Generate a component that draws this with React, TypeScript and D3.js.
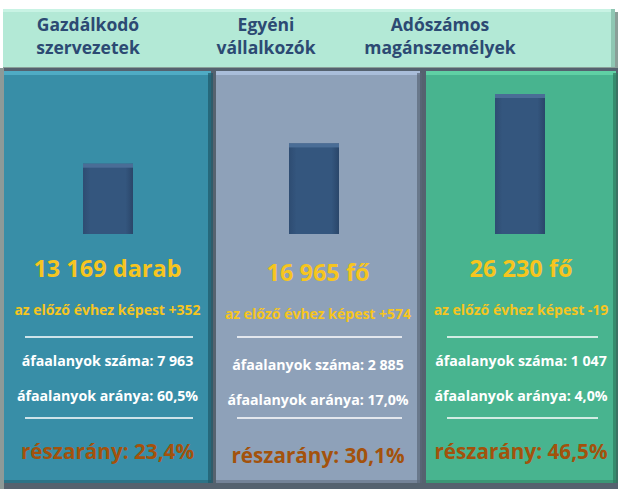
import { useMemo } from 'react';
import * as d3 from 'd3';

const headerLine1 = ['Gazdálkodó', 'Egyéni', 'Adószámos'];
const headerLine2 = ['szervezetek', 'vállalkozók', 'magánszemélyek'];
const counts = [13169, 16965, 26230];
const units = ['darab', 'fő', 'fő'];
const changes = ['+352', '+574', '-19'];
const vatCounts = [7963, 2885, 1047];
const vatShares = [60.5, 17.0, 4.0];
const shares = [23.4, 30.1, 46.5];

const W = 618;
const H = 489;
const FONT = '"Open Sans", "DejaVu Sans", sans-serif';

// panel looks: fill, top bevel, right shadow
const PANELS = [
  { x0: 4, x1: 211, fill: '#388ea7', top: '#4fabc4', edge: '#1f5868', textDy: 0 },
  { x0: 216, x1: 420, fill: '#8ea1b9', top: '#a9bdd9', edge: '#5a6677', textDy: 4 },
  { x0: 426, x1: 616, fill: '#48b48f', top: '#5fd0a4', edge: '#2d7a5e', textDy: 0 },
];
const HEADER_CX = [88, 266, 440];
const BAR_CX = [108, 314, 520];
const BAR_W = 50;

const loc = d3.formatLocale({ decimal: ',', thousands: '\u00a0', grouping: [3], currency: ['', ''] });
const fmtInt = loc.format(',d');
const fmtPct = loc.format(',.1f');

export default function App() {
  const baseY = 234;
  const y = useMemo(
    () => d3.scaleLinear().domain([0, d3.max(counts)!]).range([baseY, 94]),
    []
  );

  return (
    <svg width={W} height={H} style={{ position: 'absolute', left: 0, top: 0, background: '#fff' }}
      fontFamily={FONT}>
      <defs>
        <linearGradient id="barGrad" x1="0" x2="1" y1="0" y2="0">
          <stop offset="0" stopColor="#2e4c72" />
          <stop offset="0.15" stopColor="#34567e" />
          <stop offset="0.85" stopColor="#34567e" />
          <stop offset="1" stopColor="#2a466a" />
        </linearGradient>
      </defs>

      {/* header band */}
      <rect x={3} y={12} width={615} height={58} fill="#8a9f98" />
      <rect x={3} y={9} width={611} height={58} fill="#b3e9d6" />
      <rect x={3} y={9} width={611} height={3} fill="#c8f3e4" />
      <rect x={611} y={9} width={4} height={58} fill="#8fc7b3" />
      {HEADER_CX.map((cx, i) => (
        <g key={'h' + i} fill="#2c4a73" fontWeight={700} fontSize={17.5} textAnchor="middle">
          <text x={cx} y={31}>{headerLine1[i]}</text>
          <text x={cx} y={54}>{headerLine2[i]}</text>
        </g>
      ))}

      {/* backdrop under panels */}
      <rect x={0} y={68} width={W} height={H - 68} fill="#55626f" />
      <rect x={0} y={68} width={4} height={H - 68} fill="#8d9a98" />

      {PANELS.map((p, i) => {
        const cx = BAR_CX[i];
        const tcx = (p.x0 + p.x1) / 2;
        const dy = p.textDy;
        const barTop = y(counts[i]);
        return (
          <g key={'p' + i}>
            <rect x={p.x0} y={71} width={p.x1 - p.x0} height={412} fill={p.fill} />
            <rect x={p.x0} y={71} width={p.x1 - p.x0} height={4} fill={p.top} />
            <rect x={p.x1 - 3} y={73} width={5} height={410} fill={p.edge} opacity={0.7} />
            <rect x={p.x0} y={480} width={p.x1 - p.x0} height={3} fill={p.edge} opacity={0.5} />

            {/* bar */}
            <rect x={cx - BAR_W / 2} y={barTop} width={BAR_W} height={baseY - barTop} fill="url(#barGrad)" />
            <rect x={cx - BAR_W / 2} y={barTop} width={BAR_W} height={4} fill="#4a6d96" />

            <text x={tcx} y={277 + dy} textAnchor="middle" fill="#f6c51f" fontWeight={700} fontSize={23.5}>
              {fmtInt(counts[i])} {units[i]}
            </text>
            <text x={tcx} y={315 + dy} textAnchor="middle" fill="#f6c51f" fontWeight={700} fontSize={14}>
              az előző évhez képest {changes[i]}
            </text>
            <line x1={p.x0 + 21} x2={p.x1 - 18} y1={337} y2={337} stroke="#fff" strokeWidth={1.5} />
            <text x={tcx} y={366 + dy} textAnchor="middle" fill="#fff" fontWeight={700} fontSize={14.2}>
              áfaalanyok száma: {fmtInt(vatCounts[i])}
            </text>
            <text x={tcx} y={401 + dy} textAnchor="middle" fill="#fff" fontWeight={700} fontSize={14.2}>
              áfaalanyok aránya: {fmtPct(vatShares[i])}%
            </text>
            <line x1={p.x0 + 21} x2={p.x1 - 18} y1={418} y2={418} stroke="#fff" strokeWidth={1.5} />
            <text x={tcx} y={459 + dy} textAnchor="middle" fill="#a3520c" fontWeight={700} fontSize={20.7}>
              részarány: {fmtPct(shares[i])}%
            </text>
          </g>
        );
      })}
    </svg>
  );
}
